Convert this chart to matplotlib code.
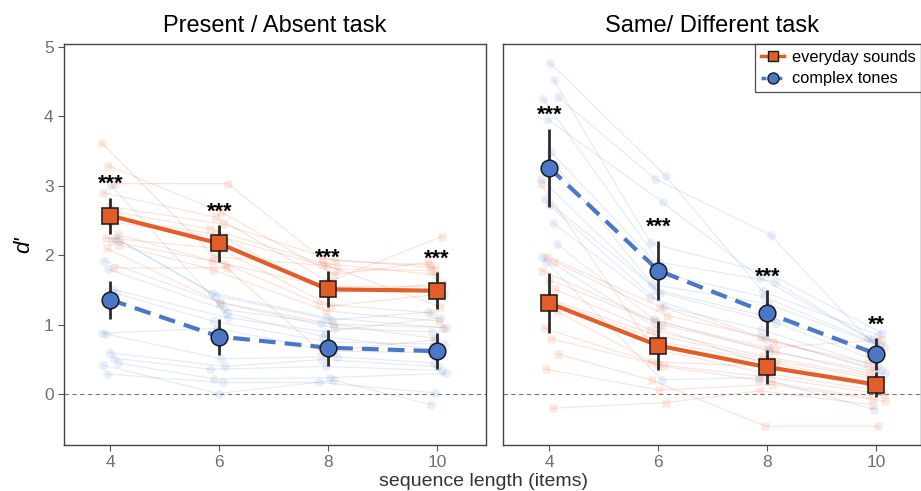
import numpy as np
import matplotlib
matplotlib.use("Agg")
import matplotlib.pyplot as plt
from matplotlib.lines import Line2D

plt.rcParams['font.family'] = ['Liberation Sans', 'DejaVu Sans']

seq_len = [4, 6, 8, 10]
panel_titles = ["Present / Absent task", "Same/ Different task"]

# group means and SEM
pa_every_mean = [2.57, 2.17, 1.51, 1.49]
pa_every_sem = [0.26, 0.26, 0.26, 0.27]
pa_tone_mean = [1.36, 0.83, 0.67, 0.62]
pa_tone_sem = [0.27, 0.26, 0.26, 0.26]
sd_every_mean = [1.31, 0.70, 0.39, 0.14]
sd_every_sem = [0.43, 0.35, 0.24, 0.18]
sd_tone_mean = [3.26, 1.78, 1.17, 0.58]
sd_tone_sem = [0.56, 0.43, 0.33, 0.23]

pa_stars = ["***", "***", "***", "***"]
sd_stars = ["***", "***", "***", "**"]

# individual subjects, one row per subject: d' at 4, 6, 8, 10 items
pa_every_subj = [
    [3.62, 1.98, 1.85, 1.26],
    [3.29, 2.62, 1.72, 1.90],
    [3.03, 3.03, 1.95, 1.82],
    [2.90, 2.55, 1.62, 2.27],
    [2.70, 2.45, 1.92, 1.86],
    [2.62, 2.38, 1.88, 1.72],
    [2.55, 2.30, 1.45, 1.60],
    [2.48, 2.25, 1.80, 1.78],
    [2.30, 1.92, 1.55, 1.55],
    [2.25, 2.10, 1.27, 1.45],
    [2.20, 1.88, 1.30, 1.17],
    [2.15, 1.79, 1.20, 1.05],
    [2.10, 1.32, 1.01, 0.96],
    [1.82, 1.82, 0.62, 0.78],
]
pa_tone_subj = [
    [3.01, 1.17, 0.83, 0.64],
    [2.25, 1.46, 1.10, 0.96],
    [2.22, 1.42, 1.07, 1.18],
    [1.92, 1.32, 0.95, 0.90],
    [1.80, 1.22, 1.03, 0.80],
    [1.51, 1.10, 0.90, 1.10],
    [1.45, 1.05, 0.75, 0.72],
    [0.88, 0.95, 0.62, 0.60],
    [0.87, 0.51, 0.54, 0.45],
    [0.60, 0.40, 0.50, 0.40],
    [0.52, 0.36, 0.40, 0.34],
    [0.45, 0.22, 0.24, 0.30],
    [0.42, 0.01, 0.20, -0.15],
    [0.29, 0.17, 0.17, 0.02],
]
sd_every_subj = [
    [3.03, 0.65, 0.30, 0.05],
    [1.98, 1.26, 0.75, 0.45],
    [1.91, 1.13, 0.83, 0.35],
    [1.78, 1.05, 0.67, 0.78],
    [1.65, 1.00, 0.62, 0.30],
    [1.51, 0.93, 0.55, 0.25],
    [1.40, 0.85, 0.50, 0.20],
    [1.35, 0.75, 0.45, 0.15],
    [1.20, 0.47, 0.40, 0.10],
    [0.95, 0.43, 0.24, 0.00],
    [0.80, 0.40, 0.20, -0.05],
    [0.58, 0.20, -0.46, -0.46],
    [0.36, 0.06, 0.14, -0.10],
    [-0.20, -0.12, 0.05, -0.15],
]
sd_tone_subj = [
    [4.77, 3.14, 1.48, 0.85],
    [4.52, 2.17, 1.75, 0.88],
    [4.28, 3.10, 2.29, 0.81],
    [4.25, 1.90, 1.62, 0.78],
    [3.96, 2.76, 1.68, 0.75],
    [3.48, 1.72, 1.40, 0.71],
    [3.30, 1.58, 1.30, 0.68],
    [3.10, 1.50, 1.10, 0.60],
    [2.81, 1.46, 1.03, 0.50],
    [2.73, 1.26, 0.93, 0.40],
    [2.47, 1.40, 0.80, 0.35],
    [2.16, 1.08, 0.62, 0.30],
    [1.98, 0.95, 0.40, 0.17],
    [1.91, 0.21, 0.24, -0.22],
]

orange = "#E35D29"
blue = "#4A78C6"
ink = "#2b2b2b"

panels = [
    (pa_every_mean, pa_every_sem, pa_tone_mean, pa_tone_sem, pa_every_subj, pa_tone_subj, pa_stars),
    (sd_every_mean, sd_every_sem, sd_tone_mean, sd_tone_sem, sd_every_subj, sd_tone_subj, sd_stars),
]

fig = plt.figure(figsize=(9.21, 4.91), dpi=100)
ax_l = fig.add_axes([64/921, 46/491, 422/921, 401/491])
ax_r = fig.add_axes([503/921, 46/491, 418/921, 401/491], sharey=ax_l)
axes = [ax_l, ax_r]
xlims = [(3.15, 10.9), (3.15, 10.82)]

x = np.array(seq_len, dtype=float)

for k, (ax, p) in enumerate(zip(axes, panels)):
    e_m, e_s, t_m, t_s, e_subj, t_subj, stars = p

    # faint per-subject lines, small fixed horizontal offsets
    for i, row in enumerate(e_subj):
        off = np.array([((i * 5 + j * 3) % 14) / 13 * 0.32 - 0.16 for j in range(4)])
        ax.plot(x + off, row, '-', color=orange, alpha=0.16, lw=0.9, zorder=1)
        ax.plot(x + off, row, 's', color=orange, alpha=0.14, ms=6, mec='none', zorder=1)
    for i, row in enumerate(t_subj):
        off = np.array([((i * 3 + j * 5 + 7) % 14) / 13 * 0.32 - 0.16 for j in range(4)])
        ax.plot(x + off, row, '-', color=blue, alpha=0.14, lw=0.9, zorder=1)
        ax.plot(x + off, row, 'o', color=blue, alpha=0.12, ms=6.5, mec='none', zorder=1)

    ax.axhline(0, color='#777777', lw=0.8, ls=(0, (4, 3)), zorder=0)

    ax.errorbar(x, e_m, yerr=e_s, fmt='none', ecolor=ink, elinewidth=2, zorder=3)
    ax.errorbar(x, t_m, yerr=t_s, fmt='none', ecolor=ink, elinewidth=2, zorder=3)
    ax.plot(x, e_m, '-', color=orange, lw=3, zorder=4)
    ax.plot(x, t_m, '--', color=blue, lw=3, dashes=(4, 2.2), zorder=4)
    ax.plot(x, e_m, 's', color=orange, ms=11.5, mec='#1a1a1a', mew=1.1, zorder=5)
    ax.plot(x, t_m, 'o', color=blue, ms=12, mec='#1a1a1a', mew=1.1, zorder=5)

    tops = np.maximum(np.add(e_m, e_s), np.add(t_m, t_s))
    for xi, lab, top in zip(x, stars, tops):
        ax.text(xi, top + 0.19, lab, ha='center', va='center', fontsize=15.5, fontweight='bold',
                color='black', zorder=6)

    ax.set_title(panel_titles[k], fontsize=17, pad=9)
    ax.set_xlim(*xlims[k])
    ax.set_xticks(seq_len)
    for sp in ax.spines.values():
        sp.set_color('#444444')
        sp.set_linewidth(1.0)
    ax.tick_params(colors='#555555', labelcolor='#707070', labelsize=12.5, length=4, direction='out')

ax_l.set_ylim(-0.73, 5.04)
ax_l.set_yticks([0, 1, 2, 3, 4, 5])
ax_r.tick_params(axis='y', left=False, labelleft=False)
ax_l.set_ylabel("d'", fontsize=16, style='italic', labelpad=7)

handles = [
    Line2D([0], [0], color=orange, lw=2.5, marker='s', ms=7.5, mfc=orange, mec='#1a1a1a', label='everyday sounds'),
    Line2D([0], [0], color=blue, lw=2.5, ls='--', dashes=(1.4, 0.9), marker='o', ms=8, mfc=blue, mec='#1a1a1a',
           label='complex tones'),
]
leg = ax_r.legend(handles=handles, loc='upper right', fontsize=11.8, frameon=True, fancybox=False,
                  borderaxespad=0.0, handlelength=1.4, handletextpad=0.45, labelspacing=0.4,
                  borderpad=0.35)
leg.get_frame().set_edgecolor('#222222')
leg.get_frame().set_linewidth(0.9)

fig.text(483/921, 1 - 481/491, "sequence length (items)", ha='center', va='center', fontsize=14, color='#333333')

fig.savefig("out.png", dpi=100)
